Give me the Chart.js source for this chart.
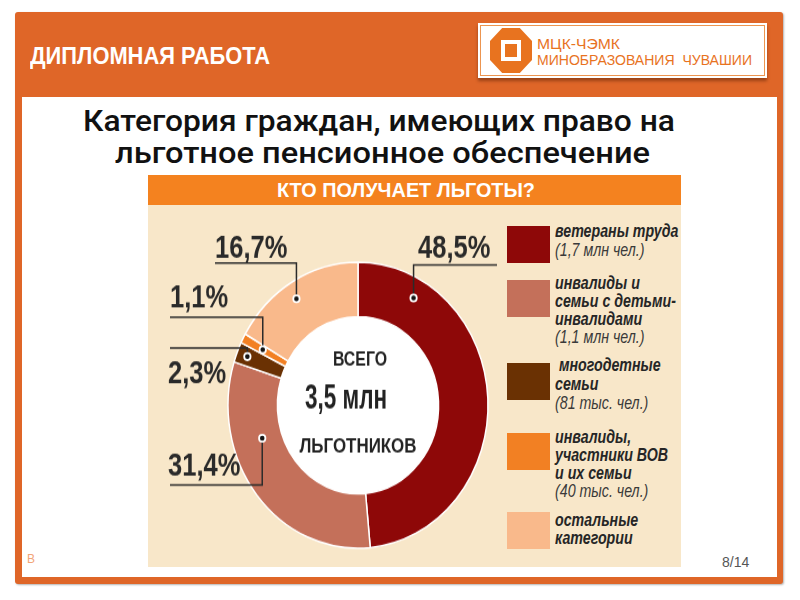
<!DOCTYPE html>
<html lang="ru">
<head>
<meta charset="utf-8">
<title>Кто получает льготы?</title>
<script src="https://cdn.jsdelivr.net/npm/chart.js@4.4.1/dist/chart.umd.min.js"></script>
<style>
  html, body { margin: 0; padding: 0; }
  body { width: 800px; height: 600px; position: relative; overflow: hidden; background: #fff;
         font-family: "Liberation Sans", Arial, sans-serif; }
  .abs { position: absolute; white-space: nowrap; }
  #frame { left: 15px; top: 12px; width: 768px; height: 572px; background: #DF6628; border-radius: 3px;
           box-shadow: 1px 1px 2px rgba(0,0,0,.3); }
  #sheet { left: 22px; top: 97px; width: 755px; height: 480px; background: #fff; }
  #head { left: 30px; top: 44px; color: #fff; font-weight: bold; font-size: 24px; line-height: 24px; transform-origin: left top; }
  #logo { left: 478px; top: 23px; width: 289px; height: 55px; background: #fff; box-shadow: 0 3px 3px rgba(70,25,0,.45); }
  #logo .edge { position: absolute; left: 2px; top: 2px; right: 2px; bottom: 2px; border: 1px solid #EC9550; }
  #octa { left: 12px; top: 5px; width: 42px; height: 45px; background: #E8731F;
          clip-path: polygon(29% 0, 71% 0, 100% 29%, 100% 71%, 71% 100%, 29% 100%, 0 71%, 0 29%); }
  #octa .sq { position: absolute; left: 11px; top: 12px; width: 20px; height: 21px; background: #fff; }
  #octa .sq div { position: absolute; left: 4px; top: 4px; width: 12px; height: 13px; background: #E8731F; }
  .logotxt { color: #E8731F; font-size: 15px; line-height: 15px; transform-origin: left top; }
  .title { color: #111; font-family: Roboto, "Liberation Sans", sans-serif; font-weight: 500; font-size: 29px; line-height: 29px; transform-origin: left top; }
  #board { left: 148px; top: 205px; width: 533px; height: 362px; background: #F8E7C9; }
  #boardHead { left: 148px; top: 175px; width: 533px; height: 30px; background: #F4821F; }
  #boardTitle { left: 277px; top: 179px; color: #fff; font-weight: bold; font-size: 21px; line-height: 21px; transform-origin: left top; }
  #pieBox { left: 148px; top: 205px; width: 352px; height: 329px; transform: scaleY(1.1); transform-origin: left top; }
  .sw { position: absolute; left: 507px; width: 43px; height: 37px; }
  .lg { position: absolute; left: 555px; font-style: italic; font-size: 18px; line-height: 18px; color: #262626; transform-origin: left top; }
  .lg .b { font-weight: bold; }
  .lg .n { font-weight: normal; color: #3a3a3a; }
  #page { left: 722px; top: 555px; font-size: 14px; line-height: 14px; color: #555; }
  #mark { left: 27px; top: 553px; font-size: 12px; line-height: 12px; color: #F2A477; }
</style>
</head>
<body>
<div id="frame" class="abs"></div>
<div id="sheet" class="abs"></div>
<div id="head" class="abs">ДИПЛОМНАЯ РАБОТА</div>
<div id="logo" class="abs">
  <div class="edge"></div>
  <div id="octa" class="abs"><div class="sq"><div></div></div></div>
  <div class="abs logotxt" id="logo1" style="left:59px;top:13px;">МЦК-ЧЭМК</div>
  <div class="abs logotxt" id="logo2" style="left:59px;top:29px;">МИНОБРАЗОВАНИЯ&nbsp; ЧУВАШИИ</div>
</div>
<div class="abs title" id="title1" style="left:83px;top:107px;">Категория граждан, имеющих право на</div>
<div class="abs title" id="title2" style="left:115px;top:139px;">льготное пенсионное обеспечение</div>

<div id="boardHead" class="abs"></div>
<div id="boardTitle" class="abs">КТО ПОЛУЧАЕТ ЛЬГОТЫ?</div>
<div id="board" class="abs"></div>
<div id="pieBox" class="abs"><canvas id="pie"></canvas></div>
<div id="legend"></div>

<div id="page" class="abs">8/14</div>
<div id="mark" class="abs">В</div>

<script>
// data
const categories = [
  "ветераны труда",
  "инвалиды и семьи с детьми-инвалидами",
  "многодетные семьи",
  "инвалиды, участники ВОВ и их семьи",
  "остальные категории"
];
const shares = [48.5, 31.4, 2.3, 1.1, 16.7];
const headcounts = ["1,7 млн чел.", "1,1 млн чел.", "81 тыс. чел.", "40 тыс. чел.", ""];
const legendLines = [
  ["ветераны труда"],
  ["инвалиды и", "семьи с детьми-", "инвалидами"],
  ["\u00a0многодетные", "семьи"],
  ["инвалиды,", "участники ВОВ", "и их семьи"],
  ["остальные", "категории"]
];
const totalLines = ["ВСЕГО", "3,5 млн", "ЛЬГОТНИКОВ"];

const colors = ["#8E0808", "#C4705A", "#6A3103", "#F28023", "#F9B98B"];

// text squeeze so the wide fallback font matches the condensed original
function fitWidth(id, w) {
  const el = document.getElementById(id);
  const natural = el.getBoundingClientRect().width;
  el.style.transform = "scaleX(" + (w / natural) + ")";
}
fitWidth("head", 240);
fitWidth("logo1", 83);
fitWidth("logo2", 215);
fitWidth("title1", 592);
fitWidth("title2", 535);
fitWidth("boardTitle", 258);

// legend
const legendTop = [222, 274, 356, 428, 511];
const swatchTop = [226, 280, 363, 433, 512];
const legendBox = document.getElementById("legend");
categories.forEach((name, i) => {
  const sw = document.createElement("div");
  sw.className = "sw";
  sw.style.top = swatchTop[i] + "px";
  sw.style.background = colors[i];
  legendBox.appendChild(sw);

  const lg = document.createElement("div");
  lg.className = "lg";
  lg.style.top = legendTop[i] + "px";
  lg.style.transform = "scaleX(0.79)";
  if (i === 0) lg.style.lineHeight = "19px";
  if (i === 2) lg.style.lineHeight = "19px";
  legendLines[i].forEach((line) => {
    const d = document.createElement("div");
    d.className = "b";
    d.textContent = line;
    lg.appendChild(d);
  });
  if (headcounts[i]) {
    const d = document.createElement("div");
    d.className = "n";
    d.textContent = "(" + headcounts[i] + ")";
    lg.appendChild(d);
  }
  legendBox.appendChild(lg);
});

// where each % label sits and how its leader line runs (canvas px before the vertical stretch)
const labelLayout = [
  { tx: 270, ty: 48, lineX: 349, lineY: 54.5, along: 0.17, depth: 0.64 },
  { tx: 20, ty: 245.5, lineX: 22, lineY: 254.5, along: 0.69, depth: 0.4 },
  { tx: 20, ty: 162, lineX: 22, lineY: 130, along: 0.5, depth: 0.78 },
  { tx: 22, ty: 92.5, lineX: 22, lineY: 102, along: 0.5, depth: 0.55 },
  { tx: 67, ty: 48, lineX: 67, lineY: 52.7, along: 0.46, depth: 0.69 }
];
const centerLayout = [
  { dx: 2, dy: -36.5, size: 19, w: 54 },
  { dx: -12, dy: 2.5, size: 32, w: 82 },
  { dx: 0, dy: 42.5, size: 19, w: 117 }
];

function squeezeText(ctx, txt, x, y, font, sx, align) {
  ctx.save();
  ctx.translate(x, y);
  ctx.scale(sx, 1);
  ctx.font = font;
  ctx.textAlign = align;
  ctx.textBaseline = "alphabetic";
  ctx.fillText(txt, 0, 0);
  ctx.restore();
}

const leaderLabels = {
  id: "leaderLabels",
  beforeDatasetsDraw(chart) {
    const arc = chart.getDatasetMeta(0).data[0];
    const p = arc.getProps(["x", "y", "innerRadius"], true);
    const ctx = chart.ctx;
    ctx.save();
    ctx.fillStyle = "#fff";
    ctx.beginPath();
    ctx.arc(p.x, p.y, p.innerRadius, 0, Math.PI * 2);
    ctx.fill();
    ctx.restore();
  },
  afterDatasetsDraw(chart) {
    const ctx = chart.ctx;
    const arcs = chart.getDatasetMeta(0).data;
    let cx = 0, cy = 0;
    arcs.forEach((arc, i) => {
      const p = arc.getProps(["x", "y", "startAngle", "endAngle", "innerRadius", "outerRadius"], true);
      cx = p.x; cy = p.y;
      const L = labelLayout[i];
      const a = p.startAngle + (p.endAngle - p.startAngle) * L.along;
      const r = p.innerRadius + (p.outerRadius - p.innerRadius) * L.depth;
      const px = p.x + r * Math.cos(a);
      const py = p.y + r * Math.sin(a);

      ctx.save();
      ctx.strokeStyle = "#2b2b2b";
      ctx.lineWidth = 1.5;
      ctx.beginPath();
      ctx.moveTo(L.lineX, L.lineY);
      ctx.lineTo(px, L.lineY);
      ctx.lineTo(px, py);
      ctx.stroke();
      ctx.beginPath();
      ctx.arc(px, py, 3.2, 0, Math.PI * 2);
      ctx.fillStyle = "#151515";
      ctx.fill();
      ctx.lineWidth = 1.8;
      ctx.strokeStyle = "#fff";
      ctx.stroke();
      ctx.restore();

      ctx.fillStyle = "#2a2a2a";
      const txt = shares[i].toFixed(1).replace(".", ",") + "%";
      squeezeText(ctx, txt, L.tx, L.ty, 'bold 29px "Liberation Sans"', 0.88, "left");
    });

    // total in the hole
    ctx.fillStyle = "#232323";
    totalLines.forEach((line, i) => {
      const c = centerLayout[i];
      const font = 'bold ' + c.size + 'px "Liberation Sans"';
      ctx.font = font;
      const sx = c.w / ctx.measureText(line).width;
      squeezeText(ctx, line, cx + c.dx, cy + c.dy, font, sx, "center");
    });
  }
};

new Chart(document.getElementById("pie"), {
  type: "doughnut",
  data: {
    labels: categories,
    datasets: [{
      data: shares,
      backgroundColor: colors,
      borderColor: "#ffffff",
      borderWidth: 1.5,
      hoverOffset: 0
    }]
  },
  options: {
    responsive: true,
    maintainAspectRatio: false,
    animation: false,
    events: [],
    radius: 130,
    cutout: "62%",
    layout: { padding: { left: 80, right: 12, top: 52, bottom: 17 } },
    plugins: {
      legend: { display: false },
      tooltip: { enabled: false }
    }
  },
  plugins: [leaderLabels]
});
</script>
</body>
</html>
